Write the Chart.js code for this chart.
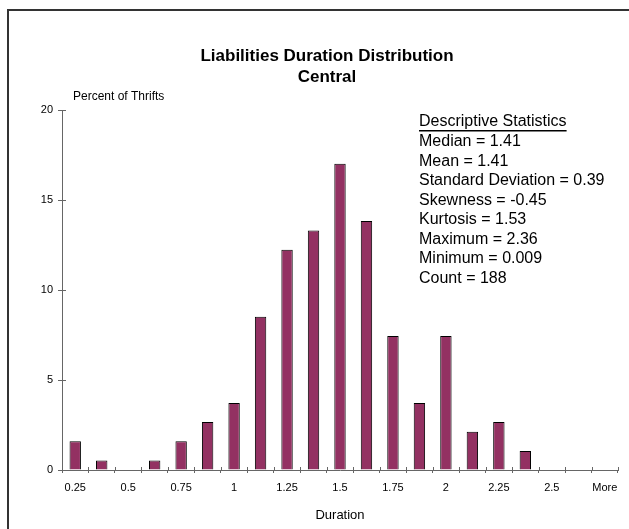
<!DOCTYPE html>
<html>
<head>
<meta charset="utf-8">
<script src="https://cdn.jsdelivr.net/npm/chart.js@4.4.0/dist/chart.umd.min.js"></script>
<style>
  html, body { margin: 0; padding: 0; background: #fff; }
  #wrap { width: 629px; height: 529px; }
</style>
</head>
<body>
<div id="wrap"><canvas id="durationChart" width="629" height="529"></canvas></div>
<script>
// bins of the histogram (only every other one gets a label, like the original)
const categories = ['0.25', '0.375', '0.5', '0.625', '0.75', '0.875', '1', '1.125', '1.25', '1.375',
                    '1.5', '1.625', '1.75', '1.875', '2', '2.125', '2.25', '2.375', '2.5', '2.625', 'More'];
// percent of thrifts in each bin (188 thrifts)
const percentOfThrifts = [1.60, 0.53, 0, 0.53, 1.60, 2.66, 3.72, 8.51, 12.23, 13.30,
                          17.02, 13.83, 7.45, 3.72, 7.45, 2.13, 2.66, 1.06, 0, 0, 0];
const yTicks = [0, 5, 10, 15, 20];
const titleLines = ['Liabilities Duration Distribution', 'Central'];
const yAxisLabel = 'Percent of Thrifts';
const xAxisLabel = 'Duration';
const statsHeading = 'Descriptive Statistics';
const statsLines = ['Median = 1.41', 'Mean = 1.41', 'Standard Deviation = 0.39', 'Skewness = -0.45',
                    'Kurtosis = 1.53', 'Maximum = 2.36', 'Minimum = 0.009', 'Count = 188'];

const FONT = 'Arial, "Liberation Sans", sans-serif';
Chart.defaults.font.family = FONT;
Chart.defaults.color = '#000';

// frame, title, stats box and the inner half of the tick marks
const extrasPlugin = {
   id: 'extras',
   beforeDraw(chart) {
      const ctx = chart.ctx;
      ctx.save();
      ctx.strokeStyle = '#333';
      ctx.lineWidth = 2;
      ctx.beginPath();
      ctx.moveTo(8, chart.height);
      ctx.lineTo(8, 10);
      ctx.lineTo(chart.width, 10);
      ctx.stroke();
      ctx.restore();
   },
   afterDraw(chart) {
      const ctx = chart.ctx;
      const xs = chart.scales.x, ys = chart.scales.y;
      const area = chart.chartArea;
      ctx.save();

      // inner tick marks
      ctx.strokeStyle = '#666';
      ctx.lineWidth = 1;
      ctx.beginPath();
      yTicks.forEach(v => {
         const y = Math.round(ys.getPixelForValue(v)) + 0.5;
         ctx.moveTo(area.left, y);
         ctx.lineTo(area.left + 4, y);
      });
      for (let i = 1; i <= categories.length; i++) {
         const x = Math.round(xs.getPixelForValue(i - 0.5)) + 0.5;
         ctx.moveTo(x, area.bottom);
         ctx.lineTo(x, area.bottom - 3);
      }
      ctx.stroke();

      // title
      ctx.fillStyle = '#000';
      ctx.textAlign = 'center';
      ctx.textBaseline = 'middle';
      ctx.font = 'bold 17px ' + FONT;
      ctx.fillText(titleLines[0], 327, 56);
      ctx.fillText(titleLines[1], 327, 77);

      // y axis label
      ctx.textAlign = 'left';
      ctx.font = '12px ' + FONT;
      ctx.fillText(yAxisLabel, 73, 97);

      // descriptive statistics
      ctx.font = '16px ' + FONT;
      const sx = 419;
      ctx.fillText(statsHeading, sx, 122);
      const w = ctx.measureText(statsHeading).width;
      ctx.fillRect(sx, 130, w, 1.5);
      statsLines.forEach((t, i) => ctx.fillText(t, sx, 142 + i * 19.5));

      ctx.restore();
   }
};

const ctx = document.getElementById('durationChart').getContext('2d');
const durationChart = new Chart(ctx, {
   type: 'bar',
   data: {
      labels: categories,
      datasets: [{
         data: percentOfThrifts,
         backgroundColor: '#933162',
         borderColor: '#000',
         borderWidth: 1,
         barPercentage: 0.43,
         categoryPercentage: 1
      }]
   },
   options: {
      responsive: false,
      animation: false,
      devicePixelRatio: 1,
      layout: { padding: { top: 110, right: 11, bottom: 0, left: 0 } },
      plugins: {
         legend: { display: false },
         tooltip: { enabled: false }
      },
      scales: {
         x: {
            offset: true,
            grid: { offset: true, drawOnChartArea: false, tickLength: 3, color: '#666' },
            border: { color: '#666', width: 1 },
            ticks: {
               autoSkip: false,
               maxRotation: 0,
               padding: 8,
               font: { size: 11 },
               callback: (v, i) => (i % 2 === 0 ? categories[i] : '')
            },
            title: { display: true, text: xAxisLabel, font: { size: 13 }, padding: { top: 0, bottom: 6 } },
            afterFit: (scale) => { scale.height = 59; }
         },
         y: {
            min: 0,
            max: 20,
            grid: { drawOnChartArea: false, tickLength: 4, color: '#666' },
            border: { color: '#666', width: 1 },
            ticks: { stepSize: 5, padding: 5, font: { size: 11 } },
            afterFit: (scale) => { scale.width = 62; }
         }
      }
   },
   plugins: [extrasPlugin]
});
</script>
</body>
</html>
